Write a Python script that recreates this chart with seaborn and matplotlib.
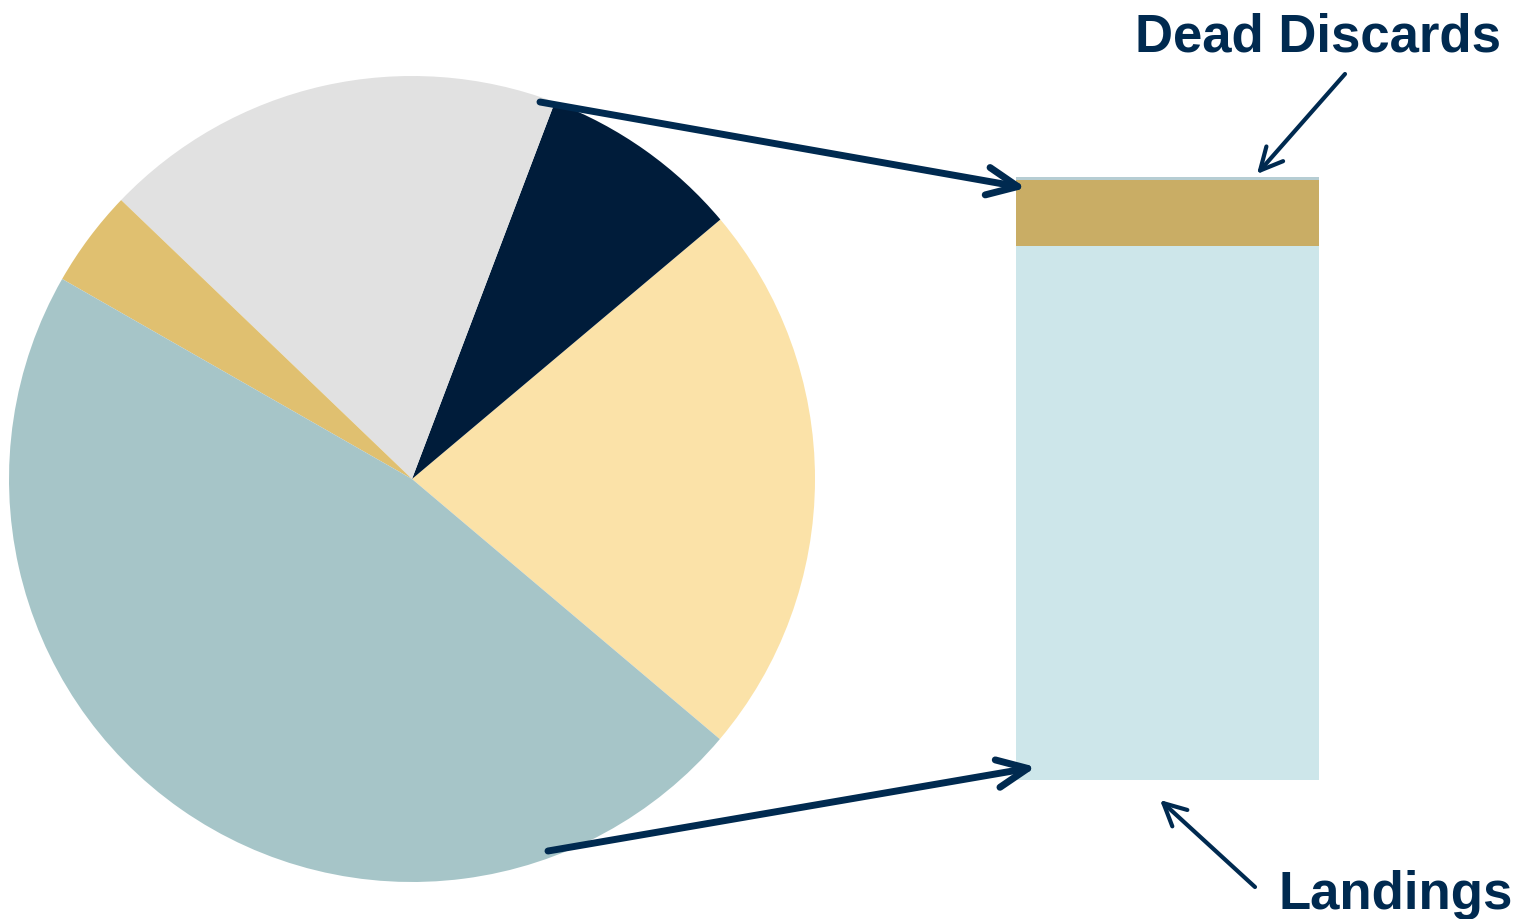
import numpy as np
import pandas as pd
import matplotlib
matplotlib.use('Agg')
import matplotlib.pyplot as plt
from matplotlib.patches import FancyArrowPatch
import seaborn as sns

# pie shares (%), counter-clockwise from the start angle
pie_groups = ['group 1', 'group 2', 'group 3', 'group 4', 'group 5']
pie_shares = [22.3, 8.1, 18.6, 3.9, 47.1]
pie_colors = ['#FBE2A8', '#001C3A', '#E1E1E1', '#E0C070', '#A6C5C8']

# catch breakdown of the bar (%), bottom to top
bar_parts = ['Landings', 'Other discards', 'Dead Discards']
bar_values = [88.6, 10.9, 0.5]
bar_colors = ['#CDE6EA', '#C9AD65', '#B6CDD3']

navy = '#002A50'
W, H = 1527, 920

sns.set_theme(style='white')
plt.rcParams['font.family'] = ['Liberation Sans', 'DejaVu Sans']

fig = plt.figure(figsize=(W / 100, H / 100), dpi=100)


def fx(px):
    return px / W


def fy(py):
    return 1 - py / H


# pie panel
ax_pie = fig.add_axes([fx(9), fy(883), 806 / W, 806 / H])
ax_pie.pie(pie_shares, colors=pie_colors, startangle=-40.2, counterclock=True,
           radius=1, wedgeprops=dict(linewidth=0))
ax_pie.set_xlim(-1, 1)
ax_pie.set_ylim(-1, 1)
ax_pie.set_aspect('equal')
ax_pie.axis('off')

# stacked bar panel
ax_bar = fig.add_axes([fx(1016), fy(781), 303 / W, 603 / H])
cum = np.cumsum(bar_values)
for i in range(len(bar_values) - 1, -1, -1):
    df = pd.DataFrame({'x': ['catch'], 'y': [cum[i]]})
    sns.barplot(data=df, x='x', y='y', color=bar_colors[i], width=1,
                saturation=1, linewidth=0, edgecolor='none', ax=ax_bar)
ax_bar.set_xlim(-0.5, 0.5)
ax_bar.set_ylim(0, cum[-1])
ax_bar.axis('off')


def arrow(p0, p1, lw, hl, hw):
    a = FancyArrowPatch((fx(p0[0]), fy(p0[1])), (fx(p1[0]), fy(p1[1])),
                        transform=fig.transFigure,
                        arrowstyle='->,head_length={},head_width={}'.format(hl, hw),
                        mutation_scale=1, color=navy, linewidth=lw,
                        capstyle='round', joinstyle='round',
                        shrinkA=0, shrinkB=0)
    fig.add_artist(a)


arrow((540, 103), (1026, 189), 5, 22, 10)
arrow((548, 852), (1036, 768), 5, 22, 10)
arrow((1345, 75), (1257, 175), 3, 16, 8)
arrow((1255, 888), (1160, 801), 3, 16, 8)

fig.text(fx(1135), fy(52), 'Dead Discards', fontsize=38, fontweight='bold',
         color=navy, ha='left', va='baseline')
fig.text(fx(1278), fy(909), 'Landings', fontsize=38, fontweight='bold',
         color=navy, ha='left', va='baseline')

fig.savefig('out.png', dpi=100)
